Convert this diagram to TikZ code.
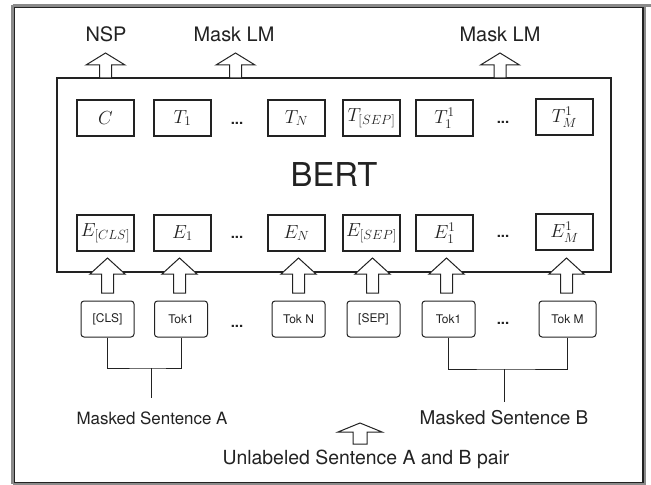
\RequirePackage{fix-cm}
\documentclass[tikz,border=0pt]{standalone}
\usepackage{fontspec}
\setmainfont{TeX Gyre Heros}
\definecolor{ink}{HTML}{222222}
\definecolor{rim}{HTML}{8A8A8A}

% hollow upward block arrow: #1 x, #2 tail y, #3 head base y, #4 tip y, #5 half shaft, #6 half head
\newcommand\hollowup[6]{%
  \draw[arrowshape] (#1-#5,#2) -- (#1-#5,#3) -- (#1-#6,#3) -- (#1,#4)
    -- (#1+#6,#3) -- (#1+#5,#3) -- (#1+#5,#2) -- cycle;}

\tikzset{
  mathbox/.style={draw=ink, line width=1.1bp, fill=white, minimum width=57bp,
    minimum height=36bp, inner sep=0pt, text=ink, font=\fontsize{19}{19}\selectfont},
  tokbox/.style={draw=ink, line width=1bp, rounded corners=3bp, minimum width=53bp,
    minimum height=36bp, inner sep=0pt, text=ink, font=\fontsize{12}{12}\selectfont},
  arrowshape/.style={draw=ink, line width=1bp, fill=white, line join=miter},
  dotsnode/.style={inner sep=0pt, text=ink, font=\fontsize{15}{15}\selectfont\bfseries},
  headlabel/.style={inner sep=0pt, text=ink, font=\fontsize{20}{20}\selectfont},
  sentlabel/.style={inner sep=0pt, text=ink},
  link/.style={draw=ink, line width=1bp},
}

\begin{document}
\begin{tikzpicture}[x=1bp,y=-1bp]
\useasboundingbox (0,0) rectangle (651,485);
\fill[white] (0,0) rectangle (651,485);

% outer frame
\draw[rim, line width=3bp] (12.5,5.5) -- (651,5.5);
\draw[rim, line width=3bp] (12.5,5.5) -- (12.5,484);
\draw[rim, line width=2bp] (645,5.5) -- (645,484) -- (12.5,484);
\draw[ink, line width=1.2bp] (14.6,7.6) rectangle (643,482.5);

% encoder block
\node[draw=ink, line width=1.2bp, minimum width=554bp, minimum height=194bp,
      inner sep=0pt, text=ink, font=\fontsize{33}{33}\selectfont] (bert) at (334,175) {BERT};

% output row
\node[mathbox] (c)    at (105.5,118) {$C$};
\node[mathbox] (t1)   at (182.5,118) {$T_1$};
\node[mathbox] (tn)   at (296.5,118) {$T_N$};
\node[mathbox] (tsep) at (371.5,118) {$T_{[SEP]}$};
\node[mathbox] (t11)  at (444.5,118) {$T_1^1$};
\node[mathbox] (tm)   at (564.5,117) {$T_M^1$};
\node[dotsnode] (tdA) at (237,123) {...};
\node[dotsnode] (tdB) at (503,122) {...};

% embedding row
\node[mathbox] (ecls) at (105.5,233) {$E_{[CLS]}$};
\node[mathbox] (e1)   at (182.5,233) {$E_1$};
\node[mathbox] (en)   at (296.5,233) {$E_N$};
\node[mathbox] (esep) at (371.5,233) {$E_{[SEP]}$};
\node[mathbox] (e11)  at (444.5,233) {$E_1^1$};
\node[mathbox] (em)   at (564.5,232) {$E_M^1$};
\node[dotsnode] (edA) at (237,237) {...};
\node[dotsnode] (edB) at (503,236) {...};

% outputs
\hollowup{105.5}{78}{65}{53}{6}{19.5}
\hollowup{235.5}{78}{65}{53}{6}{19.5}
\hollowup{500}{78}{65}{53}{6}{19.5}
\node[headlabel] (nsp)  at (106,34.5) {NSP};
\node[headlabel] (mlmA) at (234,34.5) {Mask LM};
\node[headlabel] (mlmB) at (500,34.5) {Mask LM};

% input tokens
\node[tokbox] (cls)   at (107.5,319) {[CLS]};
\node[tokbox] (tok1)  at (181,319)   {Tok1};
\node[tokbox] (tokn)  at (298.5,319) {Tok N};
\node[tokbox] (sep)   at (373.5,319) {[SEP]};
\node[tokbox] (tok1b) at (448.5,319) {Tok1};
\node[tokbox, minimum width=57bp] (tokm) at (567.5,319) {Tok M};
\node[dotsnode] (kdA) at (237,326) {...};
\node[dotsnode] (kdB) at (503,323) {...};

% inputs into the encoder
\hollowup{107.5}{293}{274}{258}{6}{17.5}
\hollowup{179.5}{293}{274}{258}{6}{17.5}
\hollowup{298.5}{293}{274}{258}{6}{17.5}
\hollowup{372.5}{293}{274}{258}{6}{17.5}
\hollowup{446.5}{293}{274}{258}{6}{17.5}
\hollowup{566.5}{293}{274}{258}{6}{17.5}

% sentence groupings
\coordinate (jA) at (151,368);
\coordinate (sA) at (151,398);
\coordinate (jB) at (504,369);
\coordinate (sB) at (504,402);
\draw[link] (cls.south) |- (jA) -| (tok1.south);
\draw[link] (jA) -- (sA);
\draw[link] (tok1b.south) |- (jB) -| (tokm.south);
\draw[link] (jB) -- (sB);
\node[sentlabel, font=\fontsize{17}{17}\selectfont] (sentA) at (152,418) {Masked Sentence A};
\node[sentlabel, font=\fontsize{19}{19}\selectfont] (sentB) at (504,418) {Masked Sentence B};

% sentence pair source
\hollowup{360}{444}{432}{423}{7}{22}
\node[sentlabel, font=\fontsize{19.5}{19.5}\selectfont] (pair) at (366,459.5) {Unlabeled Sentence A and B pair};
\end{tikzpicture}
\end{document}
